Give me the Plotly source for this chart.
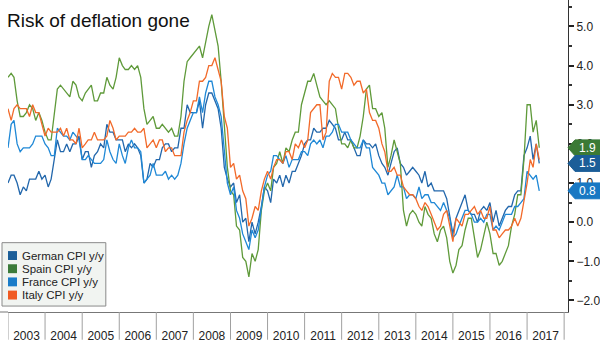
import plotly.graph_objects as go
import pandas as pd

# ---------------- data (monthly y/y %, Jan 2003 - May 2017) ----------------
germany = [
    1.0, 1.2, 1.2, 1.0, 0.7, 0.9, 0.8, 1.1, 1.1, 1.1, 1.3, 1.1,
    1.2, 0.9, 1.1, 1.6, 2.1, 1.8, 1.8, 2.0, 1.8, 2.0, 2.0, 2.2,
    1.6, 1.8, 1.8, 1.4, 1.7, 1.8, 2.0, 1.9, 2.5, 2.3, 2.3, 2.1,
    2.1, 2.1, 1.8, 2.0, 1.9, 2.0, 1.9, 1.7, 1.0, 1.1, 1.5, 1.4,
    1.6, 1.6, 1.9, 2.0, 2.0, 1.8, 1.9, 1.9, 2.4, 2.4, 3.0, 2.8,
    2.8, 2.8, 3.1, 2.4, 3.0, 3.3, 3.3, 3.1, 2.9, 2.4, 1.4, 1.1,
    0.9, 1.0, 0.5, 0.7, 0.0, 0.1, -0.5, 0.0, -0.3, 0.0, 0.4, 0.9,
    0.8, 0.5, 1.1, 1.0, 1.2, 0.9, 1.2, 1.0, 1.3, 1.3, 1.5, 1.7,
    2.0, 2.1, 2.1, 2.4, 2.3, 2.3, 2.4, 2.4, 2.6, 2.5, 2.4, 2.1,
    2.1, 2.3, 2.1, 2.1, 1.9, 1.7, 1.7, 2.1, 2.0, 2.0, 1.9, 2.0,
    1.7, 1.5, 1.4, 1.2, 1.5, 1.8, 1.9, 1.5, 1.4, 1.2, 1.3, 1.4,
    1.3, 1.2, 1.0, 1.3, 0.9, 1.0, 0.8, 0.8, 0.8, 0.8, 0.6, 0.2,
    -0.3, 0.1, 0.3, 0.5, 0.7, 0.3, 0.2, 0.2, 0.0, 0.3, 0.4, 0.3,
    0.5, 0.0, 0.3, -0.1, 0.1, 0.3, 0.4, 0.4, 0.7, 0.8, 0.8, 1.7,
    1.9, 2.2, 1.6, 2.0, 1.5,
]
spain = [
    3.7, 3.8, 3.7, 3.1, 2.7, 2.7, 2.8, 3.0, 2.9, 2.6, 2.8, 2.6,
    2.3, 2.1, 2.1, 2.7, 3.4, 3.5, 3.4, 3.3, 3.2, 3.6, 3.5, 3.2,
    3.1, 3.3, 3.4, 3.5, 3.1, 3.1, 3.3, 3.3, 3.7, 3.5, 3.4, 3.7,
    4.2, 4.0, 3.9, 3.9, 4.0, 3.9, 4.0, 3.7, 2.9, 2.5, 2.6, 2.7,
    2.4, 2.4, 2.5, 2.4, 2.3, 2.4, 2.2, 2.2, 2.7, 3.6, 4.1, 4.2,
    4.3, 4.4, 4.5, 4.2, 4.6, 5.0, 5.3, 4.9, 4.5, 3.6, 2.4, 1.4,
    0.8, 0.7, -0.1, -0.2, -0.9, -1.0, -1.4, -0.8, -1.0, -0.7, 0.3, 0.8,
    1.0, 0.8, 1.4, 1.5, 1.8, 1.5, 1.9, 1.8, 2.1, 2.3, 2.3, 3.0,
    3.3, 3.6, 3.6, 3.8, 3.5, 3.2, 3.1, 3.0, 3.1, 3.0, 2.9, 2.4,
    2.0, 2.0, 1.9, 2.1, 1.9, 1.9, 2.2, 2.7, 3.4, 3.5, 2.9, 2.9,
    2.7, 2.8, 2.4, 1.4, 1.7, 2.1, 1.8, 1.5, 0.3, -0.1, 0.2, 0.3,
    0.2, 0.0, -0.1, 0.4, 0.2, 0.1, -0.3, -0.5, -0.2, -0.1, -0.4, -1.0,
    -1.3, -1.1, -0.7, -0.6, -0.2, 0.1, 0.1, -0.4, -0.9, -0.7, -0.3, 0.0,
    -0.3, -0.8, -0.8, -1.1, -1.0, -0.8, -0.6, -0.1, 0.2, 0.7, 0.7, 1.6,
    3.0, 3.0, 2.3, 2.6, 1.9,
]
france = [
    1.9, 2.5, 2.6, 2.0, 1.8, 1.9, 1.9, 1.9, 2.0, 2.2, 2.2, 2.2,
    2.0, 1.9, 1.7, 1.7, 2.4, 2.3, 2.2, 2.2, 2.1, 2.3, 2.2, 2.1,
    1.6, 1.6, 1.7, 1.6, 1.5, 1.5, 1.5, 1.6, 2.1, 1.8, 1.6, 1.5,
    2.0, 1.7, 1.5, 1.9, 2.1, 1.9, 1.9, 1.8, 1.0, 1.1, 1.2, 1.5,
    1.2, 1.2, 1.2, 1.3, 1.1, 1.2, 1.1, 1.2, 1.5, 2.0, 2.4, 2.6,
    2.8, 2.8, 3.2, 2.8, 3.3, 3.6, 3.6, 3.2, 3.0, 2.7, 1.9, 1.0,
    0.7, 0.9, 0.3, 0.1, -0.3, -0.5, -0.7, -0.2, -0.4, -0.2, 0.4, 0.9,
    1.2, 1.3, 1.7, 1.7, 1.6, 1.5, 1.7, 1.4, 1.6, 1.6, 1.6, 1.8,
    1.8, 1.7, 2.0, 2.1, 2.0, 2.1, 1.9, 2.2, 2.2, 2.3, 2.5, 2.5,
    2.3, 2.3, 2.3, 2.1, 2.0, 1.9, 1.9, 2.1, 1.9, 1.9, 1.4, 1.3,
    1.2, 1.0, 1.0, 0.7, 0.8, 0.9, 1.2, 0.9, 0.9, 0.6, 0.7, 0.7,
    0.6, 0.9, 0.6, 0.7, 0.7, 0.5, 0.5, 0.4, 0.3, 0.5, 0.3, 0.1,
    -0.4, -0.3, -0.1, 0.1, 0.3, 0.3, 0.2, 0.0, 0.0, 0.1, 0.0, 0.2,
    0.2, -0.2, -0.1, -0.2, 0.0, 0.2, 0.2, 0.2, 0.4, 0.4, 0.5, 0.6,
    1.3, 1.2, 1.1, 1.2, 0.8,
]
italy = [
    2.9, 2.6, 2.9, 3.0, 2.9, 2.9, 2.9, 2.7, 3.0, 2.8, 2.8, 2.5,
    2.2, 2.4, 2.3, 2.3, 2.3, 2.4, 2.2, 2.4, 2.1, 2.1, 2.0, 2.4,
    1.9, 2.0, 2.1, 2.1, 2.3, 2.1, 2.1, 2.1, 2.2, 2.6, 2.4, 2.1,
    2.2, 2.2, 2.2, 2.3, 2.3, 2.4, 2.3, 2.3, 2.4, 1.9, 2.0, 2.1,
    1.9, 2.1, 2.1, 1.8, 1.9, 1.9, 1.7, 1.7, 1.7, 2.3, 2.6, 2.8,
    3.1, 3.1, 3.6, 3.6, 3.7, 4.0, 4.0, 4.2, 3.9, 3.6, 2.7, 2.4,
    1.4, 1.5, 1.1, 1.2, 0.8, 0.6, -0.1, 0.1, 0.4, 0.3, 0.8, 1.1,
    1.3, 1.1, 1.4, 1.6, 1.6, 1.5, 1.8, 1.8, 1.6, 2.0, 1.9, 2.1,
    1.9, 2.1, 2.8, 2.9, 3.0, 3.0, 2.1, 2.3, 3.6, 3.8, 3.7, 3.7,
    3.4, 3.8, 3.8, 3.7, 3.5, 3.6, 3.6, 3.3, 3.4, 2.8, 2.6, 2.6,
    2.4, 2.0, 1.8, 1.3, 1.3, 1.4, 1.2, 1.2, 0.9, 0.8, 0.7, 0.7,
    0.6, 0.4, 0.3, 0.5, 0.4, 0.2, 0.0, -0.2, -0.1, 0.2, 0.3, -0.1,
    -0.5, 0.1, 0.0, -0.1, 0.2, 0.2, 0.3, 0.4, 0.2, 0.3, 0.1, 0.1,
    0.4, -0.2, -0.2, -0.4, -0.3, -0.2, -0.2, -0.1, 0.1, -0.1, 0.1, 0.5,
    1.0, 1.6, 1.4, 2.0, 1.6,
]
series_names = ["German CPI y/y", "Spain CPI y/y", "France CPI y/y", "Italy CPI y/y"]
start_month = "2003-01-01"
year_bounds = list(range(2003, 2019))
title_text = "Risk of deflation gone"

# ---------------- styling ----------------
W, H = 600, 343
ML, MR, MT, MB = 8, 31, 0, 28
PW, PH = W - ML - MR, H - MT - MB
YMIN, YMAX = -2.295, 5.676
XRANGE = ["2003-01-01", "2018-02-08"]
FONT = "Liberation Sans"

line_colors = ["#2267ac", "#5f9a3a", "#1f88d6", "#f26a2a"]
swatch_colors = ["#1b5e98", "#3c7b3a", "#1a7cc8", "#f05a22"]
tag_colors = {"German CPI y/y": "#1b5e98", "Spain CPI y/y": "#3b7a35", "France CPI y/y": "#1878c3"}


def px_x(px):
    return (px - ML) / PW


def px_y(py):
    return (H - MB - py) / PH


dates = pd.date_range(start_month, periods=len(germany), freq="MS")
all_series = [germany, spain, france, italy]

fig = go.Figure()
for name, vals, col in zip(series_names, all_series, line_colors):
    fig.add_trace(go.Scatter(x=dates, y=vals, mode="lines", name=name,
                             line=dict(color=col, width=1.3), showlegend=False,
                             hoverinfo="skip"))

shapes = []
annotations = []

# title
annotations.append(dict(text=title_text, xref="paper", yref="paper", x=px_x(5), y=px_y(8),
                        xanchor="left", yanchor="top", showarrow=False,
                        font=dict(family=FONT, size=19, color="#111")))

# year separators below the x axis
for yr in year_bounds:
    shapes.append(dict(type="line", xref="x", yref="paper",
                       x0=f"{yr}-01-01", x1=f"{yr}-01-01", y0=0, y1=px_y(H),
                       line=dict(color="#a0a0a0", width=1), layer="above"))
# axis line continues to the left page edge
shapes.append(dict(type="line", xref="paper", yref="paper", x0=px_x(0), x1=0, y0=0, y1=0,
                   line=dict(color="#777", width=1), layer="above"))

# end-value tags on the right axis
hh = 8 * (YMAX - YMIN) / PH
for name, vals in [("Spain CPI y/y", spain), ("German CPI y/y", germany), ("France CPI y/y", france)]:
    v = vals[-1]
    col = tag_colors[name]
    xt, xb, xr = px_x(569), px_x(576), px_x(606)
    path = (f"M {xt},{v} L {xb},{v + hh} L {xr},{v + hh} "
            f"L {xr},{v - hh} L {xb},{v - hh} Z")
    shapes.append(dict(type="path", xref="paper", yref="y", path=path,
                       fillcolor=col, line=dict(color=col, width=1), layer="above"))
    annotations.append(dict(text=f"{v:.1f}", xref="paper", yref="y", x=px_x(578), y=v,
                            xanchor="left", yanchor="middle", showarrow=False,
                            font=dict(family=FONT, size=12, color="white")))

# legend (drawn manually)
lx0, lx1, ly0, ly1 = 2, 106, 245, 309
shapes.append(dict(type="rect", xref="paper", yref="paper",
                   x0=px_x(lx0), x1=px_x(lx1), y0=px_y(ly1), y1=px_y(ly0),
                   fillcolor="#f1f4f1", line=dict(color="#8a8a8a", width=1), layer="above"))
for i, (name, col) in enumerate(zip(series_names, swatch_colors)):
    cy = 258 + i * 13.3
    shapes.append(dict(type="rect", xref="paper", yref="paper",
                       x0=px_x(8), x1=px_x(17), y0=px_y(cy + 4.5), y1=px_y(cy - 4.5),
                       fillcolor=col, line=dict(color=col, width=0), layer="above"))
    annotations.append(dict(text=name, xref="paper", yref="paper", x=px_x(20), y=px_y(cy),
                            xanchor="left", yanchor="middle", showarrow=False,
                            font=dict(family=FONT, size=11.5, color="#222")))

fig.update_layout(
    width=W, height=H,
    margin=dict(l=ML, r=MR, t=MT, b=MB, pad=0),
    paper_bgcolor="white", plot_bgcolor="white",
    shapes=shapes, annotations=annotations,
    showlegend=False,
    xaxis=dict(type="date", range=XRANGE,
               dtick="M12", tick0="2003-01-01", tickformat="%Y",
               ticklabelmode="period", ticks="", showgrid=False, zeroline=False,
               showline=True, linecolor="#777", linewidth=1,
               tickfont=dict(family=FONT, size=12, color="#222"),
               ticklabelstandoff=13,
               fixedrange=True),
    yaxis=dict(side="right", range=[YMIN, YMAX], dtick=1, tick0=0, tickformat=".1f",
               ticks="outside", ticklen=5, tickwidth=2, tickcolor="#222",
               showline=True, linecolor="#333", linewidth=1,
               showgrid=False, zeroline=False,
               tickfont=dict(family=FONT, size=12, color="#222"),
               minor=dict(dtick=0.5, tick0=0, ticks="outside", ticklen=3, tickcolor="#333",
                          showgrid=False),
               fixedrange=True),
)

fig.write_html("out.html")
